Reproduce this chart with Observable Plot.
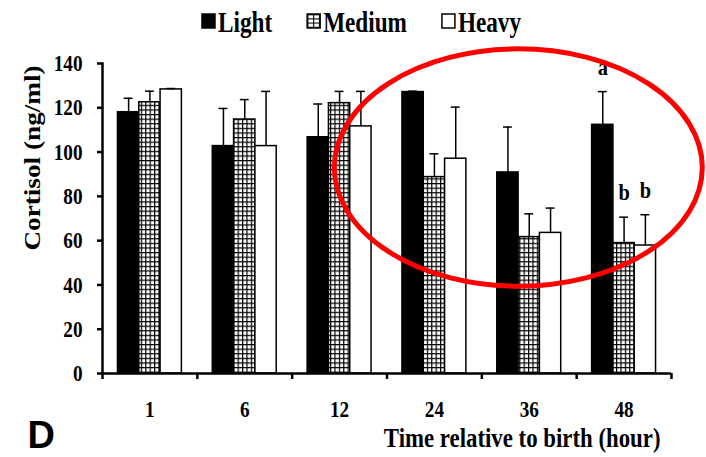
<!DOCTYPE html>
<html>
<head>
<meta charset="utf-8">
<script src="https://cdn.jsdelivr.net/npm/d3@7"></script>
<script src="https://cdn.jsdelivr.net/npm/@observablehq/plot@0.6"></script>
<style>
  html, body { margin: 0; padding: 0; background: #fff; }
  body { width: 706px; height: 457px; overflow: hidden; }
</style>
</head>
<body>
<div id="chart"></div>
<script>
// ---- data ----
const times = ["1", "6", "12", "24", "36", "48"];
const series = ["Light", "Medium", "Heavy"];
const lightMean = [118.0, 102.7, 106.7, 127.1, 90.8, 112.3];
const lightSE = [6.3, 17.0, 15.0, 0.4, 20.5, 15.0];
const mediumMean = [122.5, 114.7, 122.1, 88.7, 61.6, 58.9];
const mediumSE = [5.0, 9.0, 5.3, 10.5, 10.5, 11.7];
const heavyMean = [128.3, 102.7, 111.6, 97.0, 63.5, 57.8];
const heavySE = [0.4, 24.7, 15.8, 23.3, 11.2, 13.9];
const yTicks = [0, 20, 40, 60, 80, 100, 120, 140];
const letterTime = "48";
const letters = ["a", "b", "b"];
// highlight ellipse: centre (time slot, ng/ml) and radii (slots, ng/ml)
const highlight = [3.89, 92.8, 1.94, 53.6];
const xTitle = "Time relative to birth (hour)";
const yTitle = "Cortisol (ng/ml)";
const panelLabel = "D";

// ---- build table ----
const means = [lightMean, mediumMean, heavyMean];
const ses = [lightSE, mediumSE, heavySE];
const rows = series.flatMap((s, j) => times.map((t, i) => ({
  time: t, i, series: s, j,
  mean: means[j][i], se: ses[j][i],
  letter: t === letterTime ? letters[j] : ""
})));

const BAR = 0.2247, CAP = 0.047;
const barLeft = d => d.i + (d.j - 1.5) * BAR;
const barRight = d => barLeft(d) + BAR;
const barMid = d => barLeft(d) + BAR / 2;
const errTop = d => d.mean + d.se;

const serif = "'Liberation Serif', 'Times New Roman', serif";
const host = d3.select("#chart");

// ---- legend (above the plot) ----
const leg = host.append("svg")
  .attr("width", 706).attr("height", 45)
  .style("display", "block")
  .style("font-family", serif).style("font-weight", "bold");
const ldefs = leg.append("defs");
const legPat = ldefs.append("pattern").attr("id", "legGrid")
  .attr("patternUnits", "userSpaceOnUse").attr("width", 5.75).attr("height", 4.17);
legPat.append("rect").attr("width", 5.75).attr("height", 4.17).attr("fill", "#000");
legPat.append("rect").attr("x", 1.1).attr("y", 1.1).attr("width", 4.65).attr("height", 3.07).attr("fill", "#fff");
const legendFills = ["#000", "url(#legGrid)", "#fff"];
let lx = 202;
series.forEach((s, j) => {
  leg.append("rect").attr("x", lx).attr("y", 14).attr("width", 13).attr("height", 14)
    .attr("fill", legendFills[j]).attr("stroke", "#000").attr("stroke-width", 1.5);
  if (j === 1) legPat.attr("x", lx + 0.2).attr("y", 14.2);
  const t = leg.append("text").attr("x", lx + 16).attr("y", 32).attr("font-size", 29).text(s);
  const L = t.node().getComputedTextLength() * 0.8;
  t.attr("textLength", L).attr("lengthAdjust", "spacingAndGlyphs");
  lx += 16 + L + 35;
});

// ---- ellipse annotation (custom render using the plot's scales) ----
function ellipseMark(index, scales) {
  const [ex, ey, erx, ery] = highlight;
  const cx = scales.x(ex), cy = scales.y(ey);
  const e = document.createElementNS("http://www.w3.org/2000/svg", "ellipse");
  e.setAttribute("cx", cx);
  e.setAttribute("cy", cy);
  e.setAttribute("rx", scales.x(ex + erx) - cx);
  e.setAttribute("ry", cy - scales.y(ey + ery));
  e.setAttribute("fill", "none");
  e.setAttribute("stroke", "#f00");
  e.setAttribute("stroke-width", 5);
  return e;
}

// ---- plot ----
const plot = Plot.plot({
  width: 706,
  height: 412,
  marginTop: 18,
  marginBottom: 84,
  marginLeft: 102,
  marginRight: 35,
  x: {domain: [-0.5, 5.5]},
  y: {domain: [0, 140]},
  color: {domain: series, range: ["#000", "url(#grid)", "#fff"]},
  style: {fontFamily: serif, fontWeight: "bold", fontSize: "24px", color: "#000", background: "#fff", overflow: "visible"},
  marks: [
    Plot.rectY(rows, {x1: barLeft, x2: barRight, y1: 0, y2: "mean", fill: "series", stroke: "#000", strokeWidth: 1.5}),
    Plot.ruleX(rows, {x: barMid, y1: "mean", y2: errTop, stroke: "#000", strokeWidth: 1.5}),
    Plot.ruleY(rows, {y: errTop, x1: d => barMid(d) - CAP, x2: d => barMid(d) + CAP, stroke: "#000", strokeWidth: 1.5}),
    Plot.text(rows.filter(d => d.letter), {x: barMid, y: errTop, text: "letter", dy: -17, lineAnchor: "bottom", fontSize: 24}),
    Plot.frame({anchor: "left", strokeWidth: 2.5}),
    Plot.ruleY([0], {strokeWidth: 2.5}),
    Plot.axisY(yTicks, {tickSize: 5, tickPadding: 15, strokeWidth: 2.5, fontSize: 24, label: null}),
    Plot.axisX(d3.range(-0.5, 6, 1), {tickSize: 6, strokeWidth: 2.5, tickFormat: () => "", label: null}),
    Plot.axisX(d3.range(0, 6), {tickSize: 0, tickPadding: 26, tickFormat: i => times[i], fontSize: 24, label: null}),
    Plot.text([xTitle], {text: d => d, frameAnchor: "bottom-right", dx: -11, dy: 73, textAnchor: "end", lineAnchor: "bottom", fontSize: 28}),
    Plot.text([yTitle], {text: d => d, frameAnchor: "top-left", dx: -70, dy: 94.5, rotate: -90, textAnchor: "middle", lineAnchor: "middle", fontSize: 22.5}),
    Plot.text([panelLabel], {text: d => d, frameAnchor: "bottom-left", dx: -75, dy: 74, textAnchor: "start", lineAnchor: "bottom", fontSize: 38, fontFamily: "'Liberation Sans', Arial, sans-serif"}),
    ellipseMark
  ]
});

// grid pattern for the Medium bars
d3.select(plot).insert("defs", ":first-child").html(
  '<pattern id="grid" patternUnits="userSpaceOnUse" width="4.4" height="4.6">' +
  '<rect width="4.4" height="4.6" fill="#000"/>' +
  '<rect x="1.2" y="1.2" width="3.2" height="3.4" fill="#fff"/></pattern>'
);

host.node().append(plot);

// narrow (or widen) the serif text to match the reference's stretched look
const tickStrings = new Set([...times, ...yTicks.map(String)]);
d3.select(plot).selectAll("text").each(function () {
  const s = this.textContent;
  if (!s) return;
  if (s === xTitle) {
    // horizontal squeeze anchored at the text's right end
    const g = document.createElementNS("http://www.w3.org/2000/svg", "g");
    this.parentNode.insertBefore(g, this);
    g.appendChild(this);
    const b = g.getBBox();
    const R = b.x + b.width;
    g.setAttribute("transform", `translate(${R},0) scale(0.815,1) translate(${-R},0)`);
    return;
  }
  let k = null;
  if (s === yTitle) k = 1.21;
  else if (letters.includes(s)) k = 0.85;
  else if (tickStrings.has(s)) k = 0.8;
  if (k == null) return;
  const L = this.getComputedTextLength();
  this.setAttribute("textLength", L * k);
  this.setAttribute("lengthAdjust", "spacingAndGlyphs");
});
</script>
</body>
</html>
